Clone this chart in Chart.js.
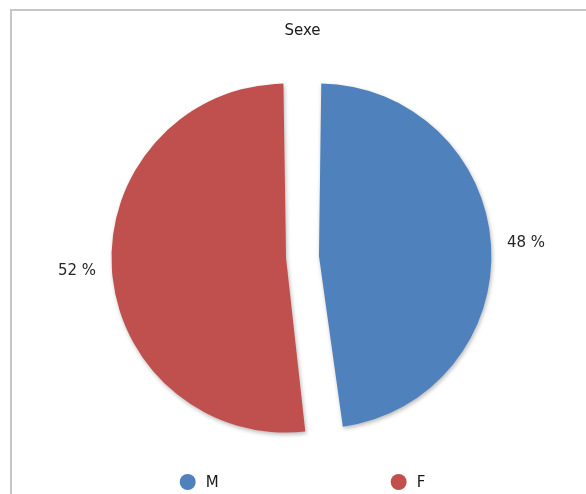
<!DOCTYPE html>
<html>
<head>
<meta charset="utf-8">
<script src="https://cdn.jsdelivr.net/npm/chart.js@4"></script>
<style>
  html, body { margin: 0; padding: 0; background: #fff; overflow: hidden; }
  #wrap { position: relative; width: 586px; height: 494px; }
  #frame { position: absolute; left: 10px; top: 9px; right: -20px; bottom: -20px; border: 2px solid #c6c6c6; }
  #chart { position: absolute; left: 0; top: 0; }
</style>
</head>
<body>
<div id="wrap">
  <div id="frame"></div>
  <canvas id="chart" width="586" height="494"></canvas>
</div>
<script>
// ---- data ----
const labels = ['M', 'F'];
const values = [48, 52];
const colors = ['#4f81bd', '#c0504d'];
const title = 'Sexe';

const FONT = '"DejaVu Sans", sans-serif';
const SLICE_OFFSET = 66;   // chart.js draws arcs shifted by offset/4

// soft drop shadow under the slices, then the "xx %" labels outside
const pieDecor = {
  id: 'pieDecor',
  beforeDatasetsDraw(chart) {
    const ctx = chart.ctx;
    ctx.save();
    ctx.shadowColor = 'rgba(0,0,0,0.28)';
    ctx.shadowBlur = 4;
    ctx.shadowOffsetX = 1;
    ctx.shadowOffsetY = 2;
  },
  afterDatasetsDraw(chart) {
    const ctx = chart.ctx;
    ctx.restore();
    const meta = chart.getDatasetMeta(0);
    ctx.save();
    ctx.font = '15px ' + FONT;
    ctx.fillStyle = '#262626';
    ctx.textAlign = 'center';
    ctx.textBaseline = 'middle';
    meta.data.forEach((arc, i) => {
      const p = arc.getProps(['x', 'y', 'startAngle', 'endAngle', 'outerRadius', 'circumference']);
      const mid = (p.startAngle + p.endAngle) / 2;
      const shift = SLICE_OFFSET / 4;
      const fix = 1 - Math.sin(Math.min(Math.PI, p.circumference));
      const r = p.outerRadius + shift * fix + 35;
      const x = p.x + Math.cos(mid) * (shift + r);
      const y = p.y + Math.sin(mid) * (shift + r);
      ctx.fillText(values[i] + ' %', x, y);
    });
    ctx.restore();
  }
};

// legend row under the pie: circle marker + label, centred on the pie
const bottomLegend = {
  id: 'bottomLegend',
  afterDraw(chart) {
    const ctx = chart.ctx;
    const area = chart.chartArea;
    const cx = (area.left + area.right) / 2;
    const y = area.bottom + 8;
    const dot = 8, gapText = 10, gapItem = 172;
    ctx.save();
    ctx.font = '15px ' + FONT;
    ctx.textBaseline = 'middle';
    const widths = labels.map(t => dot * 2 + gapText + ctx.measureText(t).width);
    const total = widths.reduce((a, b) => a + b, 0) + gapItem * (labels.length - 1);
    let x = cx - total / 2;
    labels.forEach((t, i) => {
      ctx.fillStyle = colors[i];
      ctx.beginPath();
      ctx.arc(x + dot, y, dot, 0, Math.PI * 2);
      ctx.fill();
      ctx.fillStyle = '#1a1a1a';
      ctx.textAlign = 'left';
      ctx.fillText(t, x + dot * 2 + gapText, y + 1);
      x += widths[i] + gapItem;
    });
    ctx.restore();
  }
};

new Chart(document.getElementById('chart'), {
  type: 'pie',
  data: {
    labels: labels,
    datasets: [{
      data: values,
      backgroundColor: colors,
      borderWidth: 0,
      offset: SLICE_OFFSET,
      hoverOffset: SLICE_OFFSET
    }]
  },
  options: {
    responsive: false,
    animation: false,
    radius: 158,
    layout: { padding: { left: 19, right: 0, top: 0, bottom: 20 } },
    plugins: {
      legend: { display: false },
      tooltip: { enabled: false },
      title: {
        display: true,
        text: title,
        color: '#1a1a1a',
        font: { family: FONT, size: 15, weight: 'normal' },
        padding: { top: 22, bottom: 0 }
      }
    }
  },
  plugins: [pieDecor, bottomLegend]
});
</script>
</body>
</html>
